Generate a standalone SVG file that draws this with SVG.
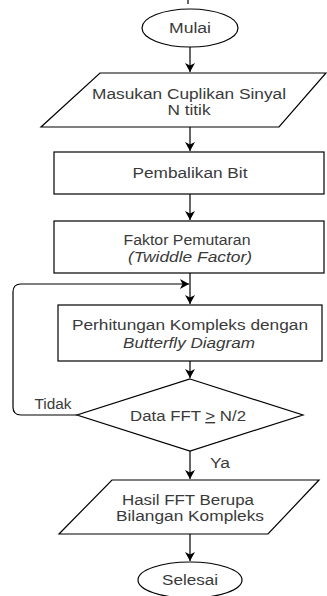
<svg xmlns="http://www.w3.org/2000/svg" width="327" height="596" viewBox="0 0 327 596">
  <style>
    .shape { fill: #ffffff; stroke: #000000; stroke-width: 1.2; }
    .edge { fill: none; stroke: #000000; stroke-width: 1.2; }
    .label { font-family: "Liberation Sans", Arial, sans-serif; font-size: 14px; fill: #3a3a3a; text-anchor: middle; }
    .it { font-style: italic; }
  </style>
  <defs>
    <marker id="arrow" markerUnits="userSpaceOnUse" markerWidth="10" markerHeight="10" refX="9" refY="5" orient="auto">
      <path d="M0,0 L9,5 L0,10 L2.5,5 Z" fill="#000000"/>
    </marker>
  </defs>
  <rect width="327" height="596" fill="#ffffff"/>

  <!-- connectors -->
  <g id="connectors">
    <line class="edge" x1="188" y1="0" x2="188" y2="4"/>
    <line class="edge" x1="190" y1="47" x2="190" y2="72" marker-end="url(#arrow)"/>
    <line class="edge" x1="190" y1="127" x2="190" y2="151" marker-end="url(#arrow)"/>
    <line class="edge" x1="190" y1="194" x2="190" y2="220" marker-end="url(#arrow)"/>
    <line class="edge" x1="190" y1="273" x2="190" y2="304" marker-end="url(#arrow)"/>
    <line class="edge" x1="190" y1="361" x2="190" y2="378" marker-end="url(#arrow)"/>
    <path class="edge" d="M77,415 L21,415 Q13,415 13,407 L13,292 Q13,284 21,284 L189,284" marker-end="url(#arrow)"/>
    <line class="edge" x1="190" y1="451" x2="190" y2="479" marker-end="url(#arrow)"/>
    <line class="edge" x1="190" y1="534" x2="190" y2="561" marker-end="url(#arrow)"/>
    <text class="label" x="53" y="409" textLength="37" lengthAdjust="spacingAndGlyphs">Tidak</text>
    <text class="label" x="220" y="468" textLength="20" lengthAdjust="spacingAndGlyphs">Ya</text>
  </g>

  <g id="mulai">
    <ellipse class="shape" cx="190" cy="28" rx="48" ry="19"/>
    <text class="label" x="190" y="33" textLength="42" lengthAdjust="spacingAndGlyphs">Mulai</text>
  </g>

  <g id="masukan">
    <polygon class="shape" points="100,73 326,73 279,127 41,127"/>
    <text class="label" x="189" y="99" textLength="194" lengthAdjust="spacingAndGlyphs">Masukan Cuplikan Sinyal</text>
    <text class="label" x="189" y="115" textLength="43" lengthAdjust="spacingAndGlyphs">N titik</text>
  </g>

  <g id="pembalikan">
    <rect class="shape" x="54" y="152" width="270" height="42"/>
    <text class="label" x="190" y="178" textLength="115" lengthAdjust="spacingAndGlyphs">Pembalikan Bit</text>
  </g>

  <g id="faktor">
    <rect class="shape" x="54" y="221" width="270" height="52"/>
    <text class="label" x="187" y="245" textLength="127" lengthAdjust="spacingAndGlyphs">Faktor Pemutaran</text>
    <text class="label it" x="190" y="262" textLength="124" lengthAdjust="spacingAndGlyphs">(Twiddle Factor)</text>
  </g>

  <g id="perhitungan">
    <rect class="shape" x="58" y="305" width="264" height="56"/>
    <text class="label" x="190" y="330" textLength="236" lengthAdjust="spacingAndGlyphs">Perhitungan Kompleks dengan</text>
    <text class="label it" x="189" y="348" textLength="132" lengthAdjust="spacingAndGlyphs">Butterfly Diagram</text>
  </g>

  <g id="keputusan">
    <polygon class="shape" points="190,379 303,415 190,451 77,415"/>
    <text class="label" x="188" y="421" textLength="116" lengthAdjust="spacingAndGlyphs">Data FFT <tspan text-decoration="underline">&gt;</tspan> N/2</text>
  </g>

  <g id="hasil">
    <polygon class="shape" points="112,480 319,480 268,534 59,534"/>
    <text class="label" x="188" y="505" textLength="132" lengthAdjust="spacingAndGlyphs">Hasil FFT Berupa</text>
    <text class="label" x="190" y="521" textLength="148" lengthAdjust="spacingAndGlyphs">Bilangan Kompleks</text>
  </g>

  <g id="selesai">
    <ellipse class="shape" cx="190" cy="580" rx="52" ry="18"/>
    <text class="label" x="190" y="585" textLength="56" lengthAdjust="spacingAndGlyphs">Selesai</text>
  </g>
</svg>
